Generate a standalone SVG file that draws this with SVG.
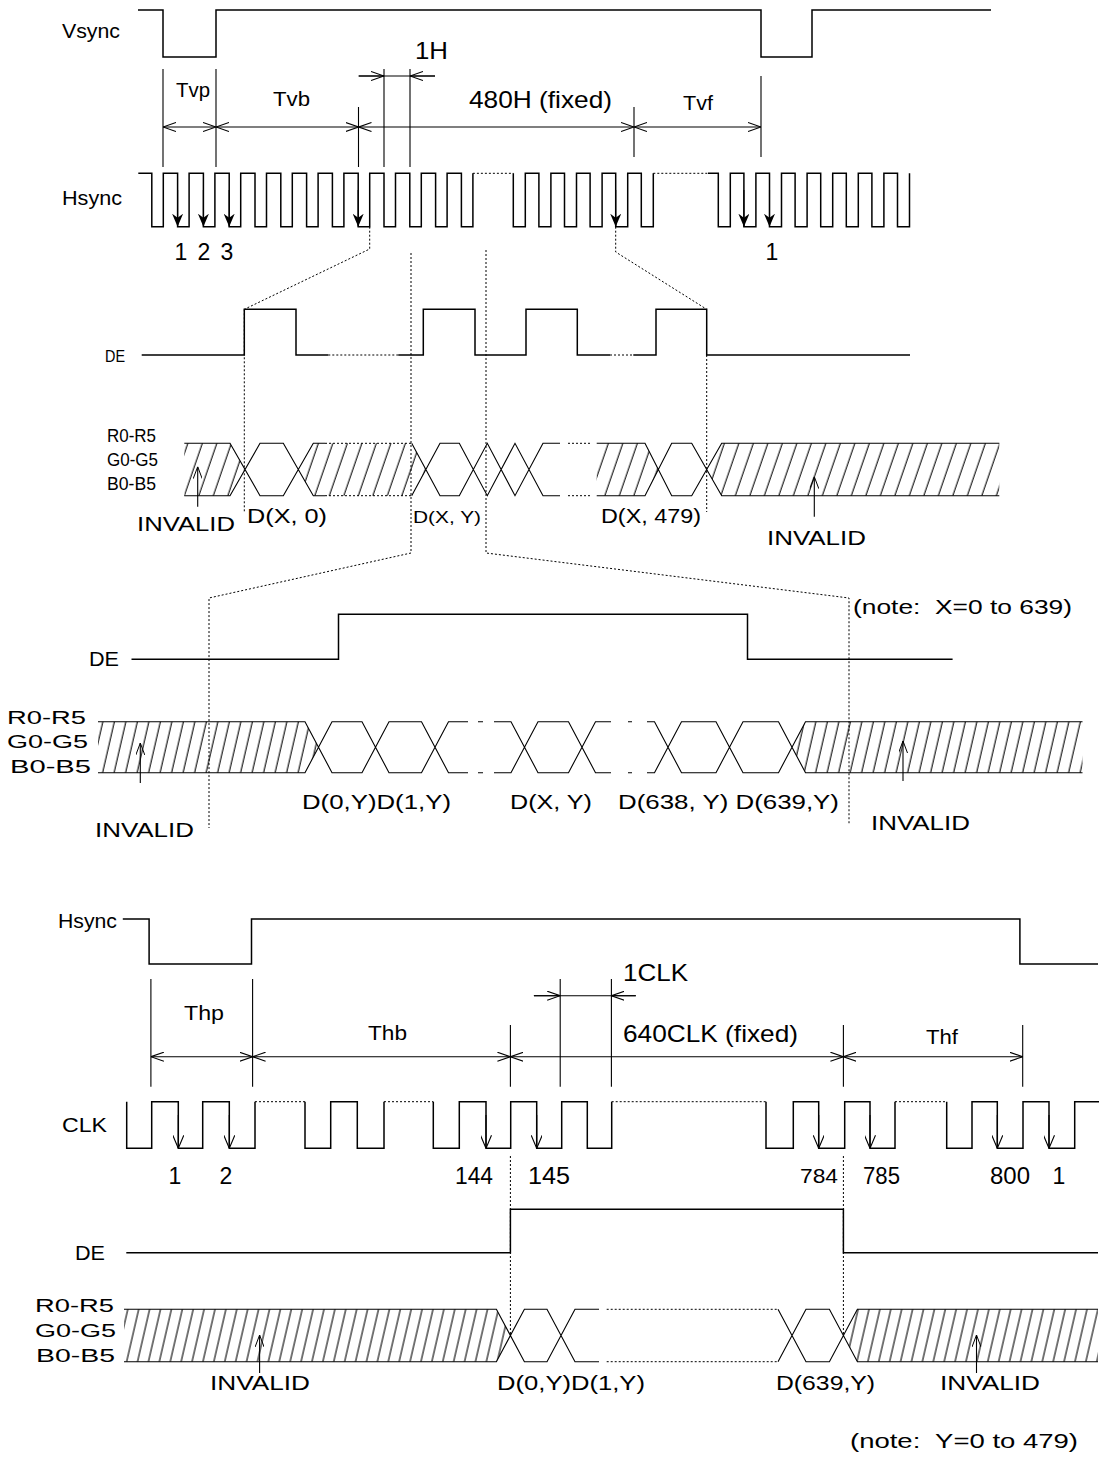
<svg xmlns="http://www.w3.org/2000/svg" width="1099" height="1465" viewBox="0 0 1099 1465">
<style>
.w{fill:none;stroke:#000;stroke-width:1.5}
.k{fill:none;stroke:#000;stroke-width:1.1}
.d{fill:none;stroke:#000;stroke-width:1;stroke-dasharray:2,2}
.t{font-family:"Liberation Sans",Arial,sans-serif;font-size:21px;fill:#000}
.s{font-size:17px}
.r{font-size:18px}
.b{font-size:24px}
.n{font-size:23px}
.m{text-anchor:middle}
</style>
<defs>
<marker id="oa" viewBox="0 0 13 10" refX="13" refY="5" markerWidth="13" markerHeight="10" markerUnits="userSpaceOnUse" orient="auto-start-reverse"><path d="M0,0.5 L13,5 L0,9.5" fill="none" stroke="#000" stroke-width="1.1"/></marker>
<marker id="fa" viewBox="0 0 13 11" refX="13" refY="5.5" markerWidth="13" markerHeight="11" markerUnits="userSpaceOnUse" orient="auto"><path d="M0,0 L13,5.5 L0,11 L4,5.5 Z" fill="#000"/></marker>
<marker id="va" viewBox="0 0 13 11" refX="13" refY="5.5" markerWidth="13" markerHeight="11" markerUnits="userSpaceOnUse" orient="auto"><path d="M0,0 L13,5.5 L0,11" fill="none" stroke="#000" stroke-width="1.1"/></marker>
<marker id="ua" viewBox="0 0 12 9" refX="12" refY="4.5" markerWidth="12" markerHeight="9" markerUnits="userSpaceOnUse" orient="auto"><path d="M0,0 L12,4.5 L0,9" fill="none" stroke="#000" stroke-width="1"/></marker>
<pattern id="h1" width="14.5" height="10" patternUnits="userSpaceOnUse" patternTransform="skewX(-19)"><line x1="7" y1="-1" x2="7" y2="11" stroke="#000" stroke-width="1.1"/></pattern>
<pattern id="h2" width="11.5" height="10" patternUnits="userSpaceOnUse" patternTransform="skewX(-13)"><line x1="5" y1="-1" x2="5" y2="11" stroke="#000" stroke-width="1.1"/></pattern>
<pattern id="h3" width="10.9" height="10" patternUnits="userSpaceOnUse" patternTransform="skewX(-13)"><line x1="5" y1="-1" x2="5" y2="11" stroke="#000" stroke-width="1.1"/></pattern>
</defs>
<rect width="1099" height="1465" fill="#fff"/>

<!-- ===== Section 1 ===== -->
<g id="vsync">
<text class="t" x="62" y="38" textLength="58" lengthAdjust="spacingAndGlyphs">Vsync</text>
<path class="w" d="M138,10 H163 V57 H216 V10 H761 V57 H812 V10 H991"/>
</g>

<g id="vdims">
<path class="k" d="M163,69 V167 M216,69 V167 M358.5,107 V167 M384,69 V167 M410,69 V167 M634,107 V157 M761,76 V157"/>
<line class="k" x1="163" y1="127" x2="216" y2="127" marker-start="url(#oa)" marker-end="url(#oa)"/>
<line class="k" x1="216" y1="127" x2="358.5" y2="127" marker-start="url(#oa)" marker-end="url(#oa)"/>
<line class="k" x1="358.5" y1="127" x2="634" y2="127" marker-start="url(#oa)" marker-end="url(#oa)"/>
<line class="k" x1="634" y1="127" x2="761" y2="127" marker-start="url(#oa)" marker-end="url(#oa)"/>
<line class="k" x1="358.7" y1="76" x2="435" y2="76"/>
<line class="k" x1="358.7" y1="76" x2="384" y2="76" marker-end="url(#oa)"/>
<line class="k" x1="435" y1="76" x2="410" y2="76" marker-end="url(#oa)"/>
<text class="t" x="176" y="97" textLength="34" lengthAdjust="spacingAndGlyphs">Tvp</text>
<text class="t" x="273" y="106" textLength="37" lengthAdjust="spacingAndGlyphs">Tvb</text>
<text class="t b" x="415" y="59" textLength="33" lengthAdjust="spacingAndGlyphs">1H</text>
<text class="t b" x="469" y="108" textLength="143" lengthAdjust="spacingAndGlyphs">480H (fixed)</text>
<text class="t" x="683" y="110" textLength="30" lengthAdjust="spacingAndGlyphs">Tvf</text>
</g>

<g id="hsync1">
<text class="t" x="62" y="205" textLength="60" lengthAdjust="spacingAndGlyphs">Hsync</text>
<path class="w" d="M138.3,173.3 H151.8 V226.7 H163.3 V173.3 H177.6 V226.7 H189.1 V173.3 H203.4 V226.7 H214.9 V173.3 H229.2 V226.7 H240.7 V173.3 H255 V226.7 H266.5 V173.3 H280.8 V226.7 H292.3 V173.3 H306.6 V226.7 H318.1 V173.3 H332.4 V226.7 H343.9 V173.3 H358.2 V226.7 H369.7 V173.3 H384 V226.7 H395.5 V173.3 H409.8 V226.7 H421.3 V173.3 H435.6 V226.7 H447.1 V173.3 H461.4 V226.7 H472.9 V173.3"/>
<path class="w" d="M513.3,173.3 V226.7 H525.3 V173.3 H538.9 V226.7 H550.9 V173.3 H564.5 V226.7 H576.5 V173.3 H590.1 V226.7 H602.1 V173.3 H615.7 V226.7 H627.7 V173.3 H641.3 V226.7 H653.3 V173.3"/>
<path class="w" d="M708,173.3 H718.3 V226.7 H730.3 V173.3 H743.9 V226.7 H755.9 V173.3 H769.5 V226.7 H781.5 V173.3 H795.1 V226.7 H807.1 V173.3 H820.7 V226.7 H832.7 V173.3 H846.3 V226.7 H858.3 V173.3 H871.9 V226.7 H883.9 V173.3 H897.5 V226.7 H909.5 V173.3"/>
<path class="d" d="M472.9,173.3 H513.3 M653.3,173.3 H708"/>
<g class="k">
<line x1="177.6" y1="190" x2="177.6" y2="226.7" marker-end="url(#fa)"/>
<line x1="203.4" y1="190" x2="203.4" y2="226.7" marker-end="url(#fa)"/>
<line x1="229.2" y1="190" x2="229.2" y2="226.7" marker-end="url(#fa)"/>
<line x1="358.2" y1="190" x2="358.2" y2="226.7" marker-end="url(#fa)"/>
<line x1="615.7" y1="190" x2="615.7" y2="226.7" marker-end="url(#fa)"/>
<line x1="743.9" y1="190" x2="743.9" y2="226.7" marker-end="url(#fa)"/>
<line x1="769.5" y1="190" x2="769.5" y2="226.7" marker-end="url(#fa)"/>
</g>
<text class="t n m" x="181" y="260">1</text>
<text class="t n m" x="204" y="260">2</text>
<text class="t n m" x="227" y="260">3</text>
<text class="t n m" x="772" y="260">1</text>
</g>

<g id="de1">
<text class="t s" x="105" y="362" textLength="20" lengthAdjust="spacingAndGlyphs">DE</text>
<path class="w" d="M141.7,355 H244.3 V309.3 H296 V355 H328.3"/>
<path class="w" d="M398.3,355 H423.3 V309.3 H475 V355 H526 V309.3 H577.3 V355 H610"/>
<path class="w" d="M633.3,355 H656 V309.3 H706.7 V355 H910"/>
<path class="d" d="M328.3,355 H398.3 M610,355 H633.3"/>
</g>

<g id="data1">
<text class="t r" x="107" y="442" textLength="49" lengthAdjust="spacingAndGlyphs">R0-R5</text>
<text class="t r" x="107" y="466" textLength="51" lengthAdjust="spacingAndGlyphs">G0-G5</text>
<text class="t r" x="107" y="490" textLength="49" lengthAdjust="spacingAndGlyphs">B0-B5</text>
<g fill="url(#h1)">
<polygon points="184.3,443.3 230,443.3 245,469.5 230,495.7 184.3,495.7"/>
<polygon points="313.3,443.3 411.7,443.3 425.8,469.5 411.7,495.7 313.3,495.7 298.3,469.5"/>
<polygon points="596.7,443.3 645,443.3 658.3,469.5 645,495.7 596.7,495.7"/>
<polygon points="721.7,443.3 999.3,443.3 999.3,495.7 721.7,495.7 706.7,469.5"/>
</g>
<path class="k" d="M184.3,443.3 H230 L260,495.7 H283.3 L313.3,443.3 H325 M184.3,495.7 H230 L260,443.3 H283.3 L313.3,495.7 H325"/>
<path class="k" d="M411.7,443.3 L440,495.7 H459.3 L487.3,443.3 L515,495.7 L543,443.3 H560 M411.7,495.7 L440,443.3 H459.3 L487.3,495.7 L515,443.3 L543,495.7 H560"/>
<path class="k" d="M596.7,443.3 H645 L671.7,495.7 H691.7 L721.7,443.3 H999.3 M596.7,495.7 H645 L671.7,443.3 H691.7 L721.7,495.7 H999.3"/>
<path class="d" d="M325,443.3 H411.7 M325,495.7 H411.7 M568,443.3 H592 M568,495.7 H592"/>
<line class="k" x1="197.7" y1="506.7" x2="197.7" y2="466.7" marker-end="url(#ua)"/>
<line class="k" x1="814.3" y1="516.7" x2="814.3" y2="476.7" marker-end="url(#ua)"/>
<text class="t" x="247" y="523" textLength="80" lengthAdjust="spacingAndGlyphs">D(X, 0)</text>
<text class="t s" x="413" y="523" textLength="68" lengthAdjust="spacingAndGlyphs">D(X, Y)</text>
<text class="t" x="601" y="523" textLength="100" lengthAdjust="spacingAndGlyphs">D(X, 479)</text>
<text class="t" x="137" y="531" textLength="98" lengthAdjust="spacingAndGlyphs">INVALID</text>
<text class="t" x="767" y="545" textLength="99" lengthAdjust="spacingAndGlyphs">INVALID</text>
<text class="t" x="853" y="614" textLength="219" lengthAdjust="spacingAndGlyphs" xml:space="preserve">(note:  X=0 to 639)</text>
</g>

<!-- ===== Section 2 ===== -->
<g id="de2">
<text class="t" x="89" y="666" textLength="30" lengthAdjust="spacingAndGlyphs">DE</text>
<path class="w" d="M131.5,659.3 H338.5 V614.3 H747.5 V659.3 H952.6"/>
</g>

<g id="data2">
<text class="t r" x="7" y="724" textLength="79" lengthAdjust="spacingAndGlyphs">R0-R5</text>
<text class="t r" x="7" y="748" textLength="81" lengthAdjust="spacingAndGlyphs">G0-G5</text>
<text class="t r" x="10" y="773" textLength="81" lengthAdjust="spacingAndGlyphs">B0-B5</text>
<g fill="url(#h2)">
<polygon points="98,721.7 305,721.7 318.5,747.2 305,772.7 98,772.7"/>
<polygon points="805.5,721.7 1082.5,721.7 1082.5,772.7 805.5,772.7 792,747.2"/>
</g>
<path class="k" d="M98,721.7 H305 L332,772.7 H362 L389,721.7 H421.5 L448.5,772.7 H468 M98,772.7 H305 L332,721.7 H362 L389,772.7 H421.5 L448.5,721.7 H468"/>
<path class="k" d="M478,721.7 H483 M478,772.7 H483 M628,721.7 H632 M628,772.7 H632"/>
<path class="k" d="M494,721.7 H511 L538,772.7 H568.5 L595.5,721.7 H611 M494,772.7 H511 L538,721.7 H568.5 L595.5,772.7 H611"/>
<path class="k" d="M647,721.7 H654.5 L681.5,772.7 H716 L743,721.7 H778.5 L805.5,772.7 H1082.5 M647,772.7 H654.5 L681.5,721.7 H716 L743,772.7 H778.5 L805.5,721.7 H1082.5"/>
<line class="k" x1="140.3" y1="783" x2="140.3" y2="743" marker-end="url(#ua)"/>
<line class="k" x1="903" y1="781" x2="903" y2="741" marker-end="url(#ua)"/>
<text class="t" x="302" y="809" textLength="149" lengthAdjust="spacingAndGlyphs">D(0,Y)D(1,Y)</text>
<text class="t" x="510" y="809" textLength="82" lengthAdjust="spacingAndGlyphs">D(X, Y)</text>
<text class="t" x="618" y="809" textLength="221" lengthAdjust="spacingAndGlyphs">D(638, Y) D(639,Y)</text>
<text class="t" x="95" y="837" textLength="99" lengthAdjust="spacingAndGlyphs">INVALID</text>
<text class="t" x="871" y="830" textLength="99" lengthAdjust="spacingAndGlyphs">INVALID</text>
</g>

<!-- ===== Section 3 ===== -->
<g id="hsync3">
<text class="t" x="58" y="928" textLength="59" lengthAdjust="spacingAndGlyphs">Hsync</text>
<path class="w" d="M122.8,919 H149.1 V964 H251.5 V919 H1019.9 V964 H1098"/>
</g>

<g id="hdims">
<path class="k" d="M150.9,979 V1086.7 M252.6,979 V1086.7 M560.2,979 V1086.7 M611.4,979 V1086.7 M510.4,1025 V1086.7 M843.4,1025 V1086.7 M1022.7,1025 V1086.7"/>
<line class="k" x1="150.9" y1="1056.7" x2="252.6" y2="1056.7" marker-start="url(#oa)" marker-end="url(#oa)"/>
<line class="k" x1="252.6" y1="1056.7" x2="510.4" y2="1056.7" marker-start="url(#oa)" marker-end="url(#oa)"/>
<line class="k" x1="510.4" y1="1056.7" x2="843.4" y2="1056.7" marker-start="url(#oa)" marker-end="url(#oa)"/>
<line class="k" x1="843.4" y1="1056.7" x2="1022.7" y2="1056.7" marker-start="url(#oa)" marker-end="url(#oa)"/>
<line class="k" x1="533.9" y1="995.7" x2="635.8" y2="995.7"/>
<line class="k" x1="533.9" y1="995.7" x2="560.2" y2="995.7" marker-end="url(#oa)"/>
<line class="k" x1="635.8" y1="995.7" x2="611.4" y2="995.7" marker-end="url(#oa)"/>
<text class="t" x="184" y="1020" textLength="40" lengthAdjust="spacingAndGlyphs">Thp</text>
<text class="t" x="368" y="1040" textLength="39" lengthAdjust="spacingAndGlyphs">Thb</text>
<text class="t b" x="623" y="981" textLength="65" lengthAdjust="spacingAndGlyphs">1CLK</text>
<text class="t b" x="623" y="1042" textLength="175" lengthAdjust="spacingAndGlyphs">640CLK (fixed)</text>
<text class="t" x="926" y="1044" textLength="32" lengthAdjust="spacingAndGlyphs">Thf</text>
</g>

<g id="clk">
<text class="t" x="62" y="1132" textLength="45" lengthAdjust="spacingAndGlyphs">CLK</text>
<path class="w" d="M126.7,1101.7 V1148.3 H151.7 V1101.7 H178.3 V1148.3 H202.7 V1101.7 H229.3 V1148.3 H255 V1101.7"/>
<path class="w" d="M305,1101.7 V1148.3 H330.7 V1101.7 H357.3 V1148.3 H384 V1101.7"/>
<path class="w" d="M433.3,1101.7 V1148.3 H459.3 V1101.7 H486 V1148.3 H510.7 V1101.7 H536.7 V1148.3 H561.7 V1101.7 H587.3 V1148.3 H611.7 V1101.7"/>
<path class="w" d="M766,1101.7 V1148.3 H793.3 V1101.7 H818.7 V1148.3 H844.7 V1101.7 H870 V1148.3 H895 V1101.7"/>
<path class="w" d="M946.7,1101.7 V1148.3 H972 V1101.7 H997.3 V1148.3 H1023 V1101.7 H1049 V1148.3 H1074.7 V1101.7 H1099"/>
<path class="d" d="M255,1101.7 H305 M384,1101.7 H433.3 M611.7,1101.7 H766 M895,1101.7 H946.7"/>
<g class="k">
<line x1="178.3" y1="1115" x2="178.3" y2="1148.3" marker-end="url(#va)"/>
<line x1="229.3" y1="1115" x2="229.3" y2="1148.3" marker-end="url(#va)"/>
<line x1="486" y1="1115" x2="486" y2="1148.3" marker-end="url(#va)"/>
<line x1="536.7" y1="1115" x2="536.7" y2="1148.3" marker-end="url(#va)"/>
<line x1="818.7" y1="1115" x2="818.7" y2="1148.3" marker-end="url(#va)"/>
<line x1="870" y1="1115" x2="870" y2="1148.3" marker-end="url(#va)"/>
<line x1="997.3" y1="1115" x2="997.3" y2="1148.3" marker-end="url(#va)"/>
<line x1="1049" y1="1115" x2="1049" y2="1148.3" marker-end="url(#va)"/>
</g>
<text class="t n m" x="175" y="1184">1</text>
<text class="t n m" x="226" y="1184">2</text>
<text class="t n" x="455" y="1184" textLength="38" lengthAdjust="spacingAndGlyphs">144</text>
<text class="t n" x="528" y="1184" textLength="42" lengthAdjust="spacingAndGlyphs">145</text>
<text class="t" x="800" y="1183" textLength="38" lengthAdjust="spacingAndGlyphs">784</text>
<text class="t n" x="863" y="1184" textLength="37" lengthAdjust="spacingAndGlyphs">785</text>
<text class="t n" x="990" y="1184" textLength="40" lengthAdjust="spacingAndGlyphs">800</text>
<text class="t n m" x="1059" y="1184">1</text>
</g>

<g id="de3">
<text class="t" x="75" y="1260" textLength="30" lengthAdjust="spacingAndGlyphs">DE</text>
<path class="w" d="M126.3,1252.7 H510.4 V1209.3 H843.4 V1252.7 H1098"/>
</g>

<g id="data3">
<text class="t r" x="35" y="1312" textLength="79" lengthAdjust="spacingAndGlyphs">R0-R5</text>
<text class="t r" x="35" y="1337" textLength="81" lengthAdjust="spacingAndGlyphs">G0-G5</text>
<text class="t r" x="36" y="1362" textLength="79" lengthAdjust="spacingAndGlyphs">B0-B5</text>
<g fill="url(#h3)">
<polygon points="124,1309.3 496.4,1309.3 510.4,1335.5 496.4,1361.7 124,1361.7"/>
<polygon points="857.4,1309.3 1098,1309.3 1098,1361.7 857.4,1361.7 843.4,1335.5"/>
</g>
<path class="k" d="M124,1309.3 H496.4 L524.4,1361.7 H547 L575,1309.3 H599 M124,1361.7 H496.4 L524.4,1309.3 H547 L575,1361.7 H599"/>
<path class="k" d="M778,1309.3 L806,1361.7 H829.4 L857.4,1309.3 H1098 M778,1361.7 L806,1309.3 H829.4 L857.4,1361.7 H1098"/>
<path class="d" d="M606.7,1309.3 H778 M606.7,1361.7 H778"/>
<line class="k" x1="259.6" y1="1373" x2="259.6" y2="1335" marker-end="url(#ua)"/>
<line class="k" x1="976.5" y1="1373" x2="976.5" y2="1335" marker-end="url(#ua)"/>
<text class="t" x="210" y="1390" textLength="100" lengthAdjust="spacingAndGlyphs">INVALID</text>
<text class="t" x="497" y="1390" textLength="148" lengthAdjust="spacingAndGlyphs">D(0,Y)D(1,Y)</text>
<text class="t" x="776" y="1390" textLength="99" lengthAdjust="spacingAndGlyphs">D(639,Y)</text>
<text class="t" x="940" y="1390" textLength="100" lengthAdjust="spacingAndGlyphs">INVALID</text>
<text class="t" x="850" y="1448" textLength="228" lengthAdjust="spacingAndGlyphs" xml:space="preserve">(note:  Y=0 to 479)</text>
</g>

<g id="connectors">
<path class="d" d="M369.7,226.7 V249 L244.3,309.3"/>
<path class="d" d="M615.7,226.7 V252 L706.7,309.3"/>
<path class="d" d="M244.3,309.3 V513"/>
<path class="d" d="M706.7,355 V512"/>
<path class="d" d="M411,253 V553 L209,598 V828"/>
<path class="d" d="M486,250 V553 L849,598 V824"/>
<path class="d" d="M510.4,1156 V1335.5"/>
<path class="d" d="M843.4,1156 V1335.5"/>
</g>
</svg>
